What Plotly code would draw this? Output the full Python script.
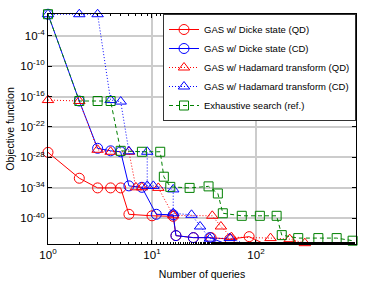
import plotly.graph_objects as go

# ---- data ----
dicke_qd_x = [1, 2, 3, 4, 5, 6, 10, 16, 17, 25, 37, 56, 86, 122, 187]
dicke_qd_y = [1e-27, 8e-33, 1e-34, 1e-34, 1e-34, 6.3e-40, 3.2e-40, 2.5e-40, 4e-44,
              1.6e-44, 1.6e-44, 8e-45, 2.5e-44, 8e-46, 8e-46]

dicke_cd_x = [1, 2, 3, 4, 5, 6, 8, 11, 16, 17, 25, 36, 56]
dicke_cd_y = [1.6, 1.3e-17, 6.3e-27, 2e-27, 1.3e-27, 2.5e-34, 1.3e-34, 6.3e-40,
              5e-40, 4e-44, 1.6e-44, 1.6e-44, 5e-46]

had_qd_x = [1, 2, 3, 4, 6, 7, 8, 11.5, 16, 38, 46, 58, 138, 211, 295]
had_qd_y = [2e-17, 1.3e-17, 3.2e-27, 1.3e-27, 1.3e-27, 1.3e-34, 1.3e-34, 1e-34,
            4e-40, 3.2e-40, 2.5e-42, 2e-44, 1.3e-44, 8e-45, 1.3e-45]

had_cd_x = [1, 2, 3, 4, 5, 6, 9, 9, 10.3, 16, 16, 24, 29, 36, 56, 80]
had_cd_y = [1.6, 1.6, 1.6, 2e-17, 1e-17, 1.6e-27, 1.3e-27, 2.5e-34, 2.5e-34, 5e-35,
            1e-39, 5e-40, 2.5e-42, 1e-44, 1.3e-44, 8e-46]

exh_x = [1, 2, 3, 4, 5, 8, 12, 13, 15, 23, 35, 43, 48, 73, 109, 158, 177, 255, 398, 597, 850]
exh_y = [1.6, 1.3e-17, 1.3e-17, 1.3e-17, 2e-27, 1.3e-27, 1.3e-27, 1.6e-32, 1.6e-34,
         1e-34, 2e-34, 8e-36, 1e-39, 3.2e-40, 3.2e-40, 3.2e-40, 5e-44, 1.3e-44,
         1.3e-44, 1.3e-44, 4e-45]

ytick_vals = [1e-40, 1e-34, 1e-28, 1e-22, 1e-16, 1e-10, 1e-4]
ytick_text = ["10<sup>-40</sup>", "10<sup>-34</sup>", "10<sup>-28</sup>", "10<sup>-22</sup>",
              "10<sup>-16</sup>", "10<sup>-10</sup>", "10<sup>-4</sup>"]
xtick_vals = [1, 10, 100]
xtick_text = ["10<sup>0</sup>", "10<sup>1</sup>", "10<sup>2</sup>"]

RED = "#ff0000"
BLUE = "#0000ff"
GREEN = "#008000"

series = [
    ("GAS w/ Dicke state (QD)", dicke_qd_x, dicke_qd_y, RED, "solid", "circle-open", 10),
    ("GAS w/ Dicke state (CD)", dicke_cd_x, dicke_cd_y, BLUE, "solid", "circle-open", 10),
    ("GAS w/ Hadamard transform (QD)", had_qd_x, had_qd_y, RED, "1px,2px", "triangle-up-open", 10),
    ("GAS w/ Hadamard transform (CD)", had_cd_x, had_cd_y, BLUE, "1px,2px", "triangle-up-open", 10),
    ("Exhaustive search (ref.)", exh_x, exh_y, GREEN, "4px,3px", "square-open", 9),
]

fig = go.Figure()
for name, xs, ys, col, dash, sym, sz in series:
    fig.add_trace(go.Scatter(
        x=xs, y=ys, name=name, mode="lines+markers",
        line=dict(color=col, width=1, dash=dash),
        marker=dict(symbol=sym, size=sz, color=col, line=dict(width=1, color=col)),
        cliponaxis=False,
    ))

FONT = "Liberation Sans, Arial, sans-serif"
fig.update_layout(
    width=374, height=281,
    margin=dict(l=48, r=18, t=14, b=37),
    paper_bgcolor="white", plot_bgcolor="white",
    font=dict(family=FONT, size=10, color="black"),
    showlegend=True,
    legend=dict(x=1, y=1, xanchor="right", yanchor="top",
                bgcolor="white", bordercolor="#333333", borderwidth=1,
                font=dict(size=9.5), tracegroupgap=0, itemwidth=30),
)
fig.update_xaxes(
    type="log", range=[0, 2.962], automargin=False,
    tickvals=xtick_vals, ticktext=xtick_text,
    ticks="inside", ticklen=4, tickcolor="black",
    showline=True, linecolor="black", linewidth=1, mirror="ticks",
    showgrid=True, gridcolor="#cccccc", gridwidth=1.5,
    zeroline=False,
    minor=dict(ticks="inside", ticklen=2, tickcolor="black", showgrid=False),
    title=dict(text="Number of queries", font=dict(size=10.5), standoff=10),
    tickfont=dict(size=11.5),
)
fig.update_yaxes(
    type="log", range=[-45.05, 0.25], automargin=False,
    tickvals=ytick_vals, ticktext=ytick_text,
    ticks="inside", ticklen=4, tickcolor="black",
    showline=True, linecolor="black", linewidth=1, mirror="ticks",
    showgrid=True, gridcolor="#cccccc", gridwidth=1.5,
    zeroline=False,
    title=dict(text="Objective function", font=dict(size=10.5), standoff=3),
    tickfont=dict(size=11.5),
)

fig.write_html("out.html",
               config={"displayModeBar": False},
               post_script="document.body.style.margin='0';document.body.style.overflow='hidden';")
